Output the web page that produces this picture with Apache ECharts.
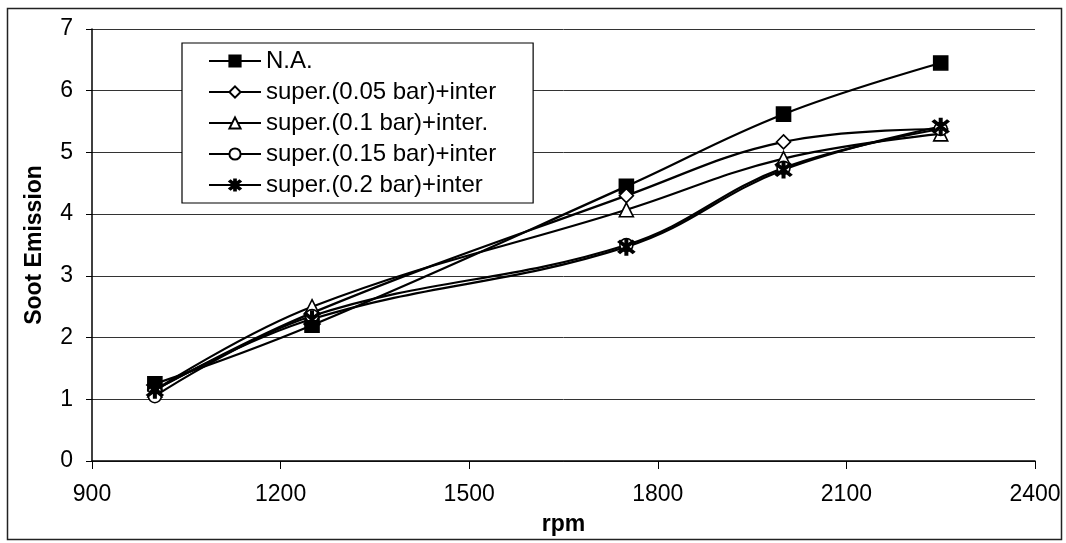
<!DOCTYPE html>
<html>
<head>
<meta charset="utf-8">
<script src="https://cdn.jsdelivr.net/npm/echarts@6/dist/echarts.min.js"></script>
<style>
  html, body { margin: 0; padding: 0; background: #fff; }
  #main { width: 1066px; height: 543px; }
</style>
</head>
<body>
<div id="main"></div>
<script>
// engine speed, rpm
const rpm = [1000, 1250, 1750, 2000, 2250];

// soot emission per configuration
const naValues = [1.25, 2.2, 4.45, 5.62, 6.45];
const super005 = [1.15, 2.4, 4.3, 5.17, 5.38];
const super01 = [1.15, 2.5, 4.07, 4.9, 5.3];
const super015 = [1.05, 2.35, 3.5, 4.75, 5.38];
const super02 = [1.15, 2.3, 3.47, 4.72, 5.42];

const seriesNames = [
  'N.A.',
  'super.(0.05 bar)+inter',
  'super.(0.1 bar)+inter.',
  'super.(0.15 bar)+inter',
  'super.(0.2 bar)+inter'
];

// asterisk marker made of three thin bars
const starPath = 'path://M-1.2,-10L1.2,-10L1.2,10L-1.2,10Z' +
  'M-6.2,-7.9L7.9,6.2L6.2,7.9L-7.9,-6.2Z' +
  'M6.2,-7.9L7.9,-6.2L-6.2,7.9L-7.9,6.2Z';

const font = 'Liberation Sans, Arial, sans-serif';

const pairs = (vals) => rpm.map((x, i) => [x, vals[i]]);

const makeSeries = (name, vals, symbol, size, fill) => ({
  name: name,
  type: 'line',
  smooth: 0.4,
  data: pairs(vals),
  symbol: symbol,
  symbolSize: size,
  showAllSymbol: true,
  lineStyle: { color: '#000', width: 2.2 },
  itemStyle: { color: fill, borderColor: '#000', borderWidth: 1.6 },
  emphasis: { disabled: true }
});

const chart = echarts.init(document.getElementById('main'));

const option = {
  animation: false,
  backgroundColor: '#fff',
  textStyle: { fontFamily: font, color: '#000' },
  grid: { left: 92, right: 31, top: 29, bottom: 82 },
  graphic: [{
    type: 'rect',
    shape: { x: 7.5, y: 8.5, width: 1054, height: 531 },
    style: { fill: 'none', stroke: '#222', lineWidth: 1.5 },
    silent: true
  }],
  legend: {
    orient: 'vertical',
    left: 182,
    top: 43,
    padding: [6, 37, 6, 26],
    itemGap: 7,
    itemWidth: 52,
    itemHeight: 14,
    backgroundColor: '#fff',
    borderColor: '#000',
    borderWidth: 1.2,
    data: seriesNames,
    textStyle: { fontFamily: font, fontSize: 24, color: '#000', lineHeight: 24 }
  },
  xAxis: {
    type: 'value',
    min: 900,
    max: 2400,
    interval: 300,
    name: 'rpm',
    nameLocation: 'middle',
    nameGap: 52,
    nameTextStyle: { fontFamily: font, fontSize: 23, fontWeight: 'bold', color: '#000' },
    axisLine: { show: true, lineStyle: { color: '#000', width: 1.5 } },
    axisTick: { show: true, length: 8, lineStyle: { color: '#000' } },
    axisLabel: { fontFamily: font, fontSize: 23, color: '#000', margin: 22, formatter: (v) => String(v) },
    splitLine: { show: false }
  },
  yAxis: {
    type: 'value',
    min: 0,
    max: 7,
    interval: 1,
    name: 'Soot Emission',
    nameLocation: 'middle',
    nameGap: 46,
    nameTextStyle: { fontFamily: font, fontSize: 23, fontWeight: 'bold', color: '#000' },
    axisLine: { show: true, lineStyle: { color: '#000', width: 1.5 } },
    axisTick: { show: true, length: 6, lineStyle: { color: '#000' } },
    axisLabel: { fontFamily: font, fontSize: 23, color: '#000', margin: 19 },
    splitLine: { show: true, lineStyle: { color: '#333', width: 1 } }
  },
  series: [
    makeSeries(seriesNames[0], naValues, 'rect', 14, '#000'),
    makeSeries(seriesNames[1], super005, 'diamond', 14, '#fff'),
    makeSeries(seriesNames[2], super01, 'triangle', 14, '#fff'),
    makeSeries(seriesNames[3], super015, 'circle', 13, '#fff'),
    makeSeries(seriesNames[4], super02, starPath, 16, '#000')
  ]
};

chart.setOption(option);
</script>
</body>
</html>
